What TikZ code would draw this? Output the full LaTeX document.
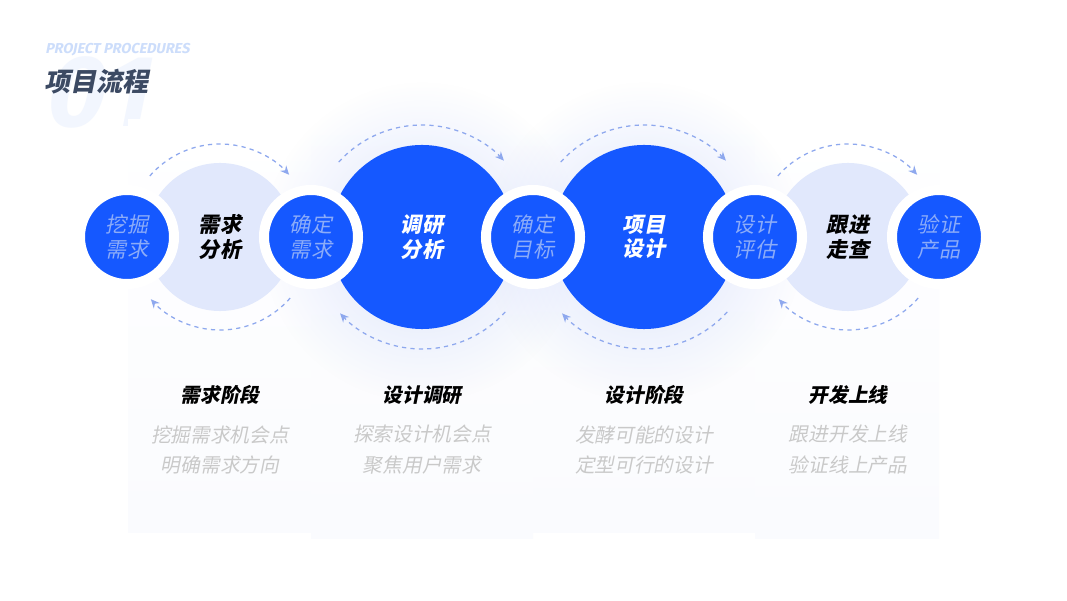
\documentclass[tikz,border=0pt]{standalone}
\usepackage{fontspec}
\usetikzlibrary{arrows.meta, fadings}
\newfontfamily\cjk[FakeSlant=0.2]{Noto Sans CJK SC}
\newfontfamily\enfont[FakeSlant=0.2]{Fira Sans}
\definecolor{mainblue}{HTML}{1558FF}
\definecolor{softblue}{HTML}{E1E8FC}
\definecolor{ringtext}{HTML}{8CACF8}
\definecolor{dashblue}{HTML}{8EA8EE}
\definecolor{glowblue}{HTML}{C6D3FA}
\definecolor{panellight}{HTML}{F3F6FE}
\definecolor{paneldeep}{HTML}{ECF0FD}
\definecolor{panelend}{HTML}{FAFBFE}
\definecolor{titlegrey}{HTML}{3C4A63}
\definecolor{subtitle}{HTML}{CCDDFB}
\definecolor{bignum}{HTML}{F2F6FE}
\definecolor{descgrey}{HTML}{C9C9C9}
\tikzfading[name=glowfade, inner color=transparent!40, outer color=transparent!100]

\begin{document}
\begin{tikzpicture}[x=0.025cm, y=0.025cm,
    every node/.style={font=\cjk},
    ring/.style={circle, fill=mainblue, draw=white, line width=0.25cm,
                 minimum size=2.35cm, inner sep=0pt, align=center, text=ringtext,
                 font=\cjk\fontsize{15}{17.5}\selectfont},
    bigc/.style={circle, fill=mainblue, minimum size=4.6cm, inner sep=0pt,
                 align=center, text=white, font=\cjk\bfseries\fontsize{15}{17.5}\selectfont},
    softc/.style={circle, fill=softblue, minimum size=3.7cm, inner sep=0pt,
                  align=center, text=black, font=\cjk\bfseries\fontsize{15}{17.5}\selectfont},
    loop arr/.style={dashblue, line width=0.9pt, dash pattern=on 3pt off 3pt,
                     -{Stealth[length=2.2mm, width=2mm]}},
    phase/.style={font=\cjk\bfseries\fontsize{14}{16}\selectfont, text=black},
    desc/.style={font=\cjk\fontsize{14}{22}\selectfont, text=descgrey, align=center}
]
\useasboundingbox (0,0) rectangle (1067,600);
\fill[white] (0,0) rectangle (1067,600);

% heading
\node[anchor=west, text=bignum, font=\enfont\bfseries\fontsize{72}{72}\selectfont] (num) at (38,508) {01};
\node[anchor=west, text=subtitle, font=\enfont\bfseries\fontsize{10.2}{11}\selectfont, inner sep=0pt] (sub) at (45,550) {PROJECT PROCEDURES};
\node[anchor=west, text=titlegrey, font=\cjk\bfseries\fontsize{18.5}{20}\selectfont, inner sep=0pt] (title) at (44,518) {项目流程};

% columns
\shade[top color=white, middle color=panellight, bottom color=panelend] (128,68) rectangle (311,480);
\shade[top color=white, middle color=paneldeep, bottom color=panelend] (311,62) rectangle (533,510);
\shade[top color=white, middle color=panellight, bottom color=panelend] (533,68) rectangle (755,510);
\shade[top color=white, middle color=paneldeep, bottom color=panelend] (755,62) rectangle (939,480);

% glow
\fill[glowblue, path fading=glowfade] (422,358) circle (160);
\fill[glowblue, path fading=glowfade] (644,358) circle (160);

\node[softc] (need) at (220,363) {需求\\分析};
\node[bigc] (research) at (422,363) {调研\\分析};
\node[bigc] (design) at (644,363) {项目\\设计};
\node[softc] (track) at (848,363) {跟进\\走查};

\node[ring] (dig) at (127,363) {挖掘\\需求};
\node[ring] (confirm) at (311,363) {确定\\需求};
\node[ring] (goal) at (533,363) {确定\\目标};
\node[ring] (assess) at (755,363) {设计\\评估};
\node[ring] (verify) at (939,363) {验证\\产品};

\draw[loop arr] (need.center) ++(139:93) arc[start angle=139, end angle=42, radius=93];
\draw[loop arr] (need.center) ++(-41:93) arc[start angle=-41, end angle=-138, radius=93];
\draw[loop arr] (research.center) ++(138:112) arc[start angle=138, end angle=43, radius=112];
\draw[loop arr] (research.center) ++(-42:112) arc[start angle=-42, end angle=-137, radius=112];
\draw[loop arr] (design.center) ++(138:112) arc[start angle=138, end angle=43, radius=112];
\draw[loop arr] (design.center) ++(-42:112) arc[start angle=-42, end angle=-137, radius=112];
\draw[loop arr] (track.center) ++(139:93) arc[start angle=139, end angle=42, radius=93];
\draw[loop arr] (track.center) ++(-41:93) arc[start angle=-41, end angle=-138, radius=93];

\node[phase] (p1) at (220,205) {需求阶段};
\node[phase] (p2) at (422,205) {设计调研};
\node[phase] (p3) at (644,205) {设计阶段};
\node[phase] (p4) at (848,205) {开发上线};

\node[desc] (d1) at (220,150) {挖掘需求机会点\\明确需求方向};
\node[desc] (d2) at (422,150) {探索设计机会点\\聚焦用户需求};
\node[desc] (d3) at (644,150) {发酵可能的设计\\定型可行的设计};
\node[desc] (d4) at (848,150) {跟进开发上线\\验证线上产品};
\end{tikzpicture}
\end{document}
